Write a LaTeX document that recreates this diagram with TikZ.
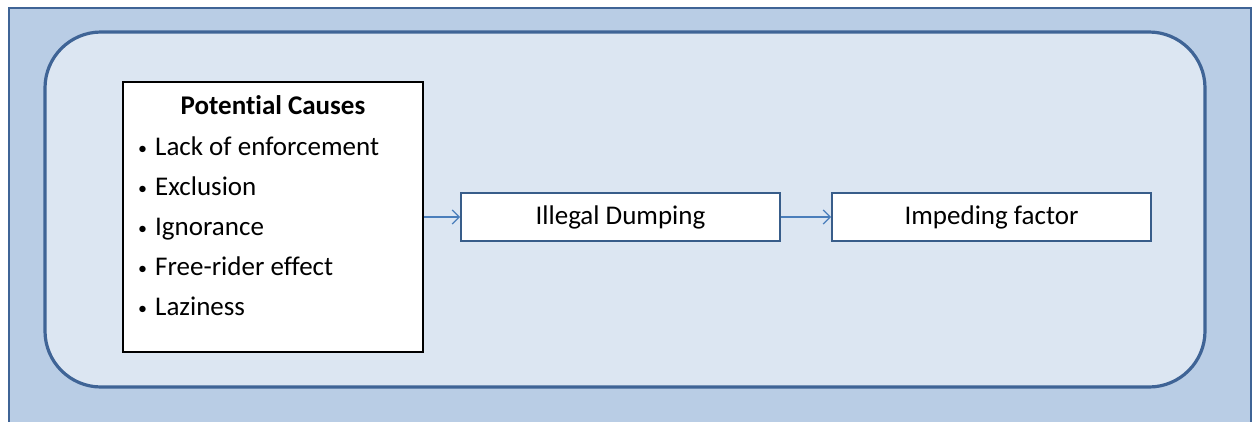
\documentclass[tikz,border=0pt]{standalone}
\usepackage{fontspec}
\setmainfont[Ligatures=NoCommon]{Carlito}
\usetikzlibrary{arrows.meta}
\definecolor{outerfill}{HTML}{B9CDE5}
\definecolor{outerdraw}{HTML}{3F6496}
\definecolor{innerfill}{HTML}{DCE6F2}
\definecolor{boxdraw}{HTML}{385D8A}
\definecolor{arrowcol}{HTML}{4A7EBB}
\newcommand{\bul}{\raisebox{1pt}{\fontsize{18pt}{20pt}\selectfont•}\hspace{8pt}}
\tikzset{
  flowbox/.style={draw=boxdraw, line width=1.8pt, fill=white, minimum width=319pt, minimum height=48pt, inner sep=0pt, font=\fontsize{27pt}{30pt}\selectfont},
  causebox/.style={draw=black, line width=1.8pt, fill=white, minimum width=300pt, minimum height=270pt, inner sep=0pt},
  flowarrow/.style={draw=arrowcol, line width=1.3pt, -{Straight Barb[length=7pt,width=14pt,line width=1.3pt]}},
  itemtext/.style={anchor=base west, inner sep=0pt, font=\fontsize{27pt}{30pt}\selectfont},
}
\begin{document}
\begin{tikzpicture}[x=1pt,y=-1pt]
\useasboundingbox (0,0) rectangle (1256,421);
\fill[outerfill] (9,8) rectangle (1251,430);
\draw[outerdraw, line width=2.8pt] (9,430) -- (9,8) -- (1251,8) -- (1251,430);
\draw[outerdraw, fill=innerfill, line width=3.2pt, rounded corners=56pt] (45,32) rectangle (1205,387);
\node[causebox] (causes) at (273,217) {};
\node[itemtext, anchor=base, font=\fontsize{27pt}{30pt}\selectfont\bfseries] (title) at (273,114) {Potential Causes};
\node[itemtext] (i1) at (138,155) {\bul Lack of enforcement};
\node[itemtext] (i2) at (138,195) {\bul Exclusion};
\node[itemtext] (i3) at (138,235) {\bul Ignorance};
\node[itemtext] (i4) at (138,275) {\bul Free-rider effect};
\node[itemtext] (i5) at (138,315) {\bul Laziness};
\node[flowbox] (dump) at (620.5,217) {Illegal Dumping};
\node[flowbox] (imp) at (991.5,217) {Impeding factor};
\draw[flowarrow] (causes.east |- dump.west) -- (dump.west);
\draw[flowarrow] (dump.east) -- (imp.west);
\end{tikzpicture}
\end{document}
